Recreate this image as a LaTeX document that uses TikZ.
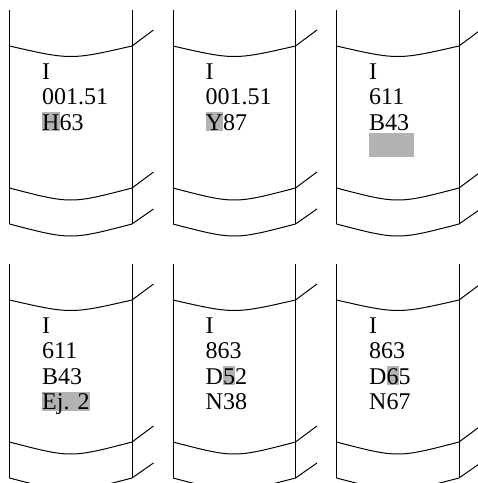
\documentclass[tikz,border=0pt]{standalone}
\usepackage{fontspec}
\setmainfont{Liberation Serif}
\definecolor{hlgray}{RGB}{178,178,178}
% grey mark behind part of a call number
\newcommand{\hl}[1]{\leavevmode\setbox0\hbox{#1}\rlap{\color{hlgray}\rule[-1pt]{\wd0}{19pt}}#1}
\newcommand{\hlblank}{\leavevmode\textcolor{hlgray}{\rule[-1.5pt]{45pt}{24pt}}}

\begin{document}
\begin{tikzpicture}[x=1pt, y=-1pt,
    spine/.style={line width=1pt, line join=round},
    callno/.style={anchor=base west, inner sep=0pt, text width=90pt, align=left,
                   font=\fontsize{24}{25.5}\selectfont\frenchspacing}]
        \useasboundingbox (0,0) rectangle (478,483);
        \clip (0,0) rectangle (478,483);
        \foreach \x/\y/\txt [count=\n] in {
            9.5/0/{I\\001.51\\\hl{H}63},
            173/0/{I\\001.51\\\hl{Y}87},
            336.5/0/{I\\611\\B43\\\hlblank},
            9.5/254/{I\\611\\B43\\\hl{Ej. 2}},
            173/254/{I\\863\\D\hl{5}2\\N38},
            336.5/254/{I\\863\\D\hl{6}5\\N67}} {
            \draw[spine] (\x,\y+10) -- (\x,\y+224);
            \draw[spine] (\x+122.5,\y+10) -- (\x+122.5,\y+224);
            \draw[spine] (\x,\y+46) .. controls (\x+61.25,\y+60) .. (\x+122.5,\y+46) -- (\x+144,\y+30);
            \draw[spine] (\x,\y+188) .. controls (\x+61.25,\y+204) .. (\x+122.5,\y+188) -- (\x+144,\y+172);
            \draw[spine] (\x,\y+224) .. controls (\x+61.25,\y+240) .. (\x+122.5,\y+224) -- (\x+144,\y+209);
            \node[callno] (label\n) at (\x+32.5,\y+79) {\txt};
        }
    \end{tikzpicture}
\end{document}
